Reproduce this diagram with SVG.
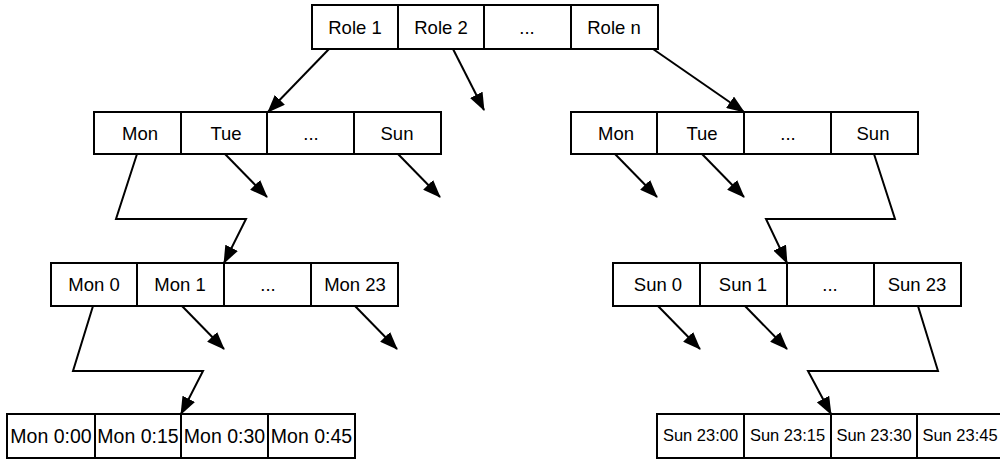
<svg xmlns="http://www.w3.org/2000/svg" width="1000" height="460" viewBox="0 0 1000 460">
<style>
.cell{fill:#fff;stroke:#000;stroke-width:2}
.t{font-family:"Liberation Sans",Arial,sans-serif;font-size:18.5px;fill:#000;text-anchor:middle}
.tl{font-size:19.5px}
.ts{font-size:16.5px}
.c{fill:none;stroke:#000;stroke-width:2;marker-end:url(#ah)}
</style>
<defs>
<marker id="ah" markerUnits="userSpaceOnUse" markerWidth="18" markerHeight="14" refX="17" refY="7" orient="auto" viewBox="0 0 18 14">
<path d="M0,0 L18,7 L0,14 z" fill="#000"/>
</marker>
</defs>
<rect width="1000" height="460" fill="#fff"/>
<g id="connectors">
<path class="c" d="M329,49 L268,112"/>
<path class="c" d="M453,49 L484,110"/>
<path class="c" d="M653,49 L744,112"/>
<path class="c" d="M137,154 L116,219 L246,219 L224,263"/>
<path class="c" d="M225,154 L267,197"/>
<path class="c" d="M398,154 L440,197"/>
<path class="c" d="M615,154 L657,197"/>
<path class="c" d="M702,154 L744,197"/>
<path class="c" d="M874,154 L895,219 L766,219 L787,263"/>
<path class="c" d="M93,306 L73,371 L203,371 L181,414"/>
<path class="c" d="M182,306 L224,349"/>
<path class="c" d="M355,306 L397,349"/>
<path class="c" d="M658,306 L700,349"/>
<path class="c" d="M745,306 L787,349"/>
<path class="c" d="M918,306 L938,371 L808,371 L831,414"/>
</g>
<g id="roles">
<rect class="cell" x="312" y="5" width="86" height="44"/>
<rect class="cell" x="398" y="5" width="86" height="44"/>
<rect class="cell" x="484" y="5" width="87" height="44"/>
<rect class="cell" x="571" y="5" width="87" height="44"/>
<text class="t" x="355" y="34">Role 1</text>
<text class="t" x="441" y="34">Role 2</text>
<text class="t" x="527" y="34">...</text>
<text class="t" x="614" y="34">Role n</text>
</g>
<g id="days-left">
<rect class="cell" x="94" y="112" width="87" height="42"/>
<rect class="cell" x="181" y="112" width="86" height="42"/>
<rect class="cell" x="267" y="112" width="87" height="42"/>
<rect class="cell" x="354" y="112" width="87" height="42"/>
<text class="t" x="140" y="140">Mon</text>
<text class="t" x="226" y="140">Tue</text>
<text class="t" x="311" y="140">...</text>
<text class="t" x="397" y="140">Sun</text>
</g>
<g id="days-right">
<rect class="cell" x="571" y="112" width="86" height="42"/>
<rect class="cell" x="657" y="112" width="87" height="42"/>
<rect class="cell" x="744" y="112" width="87" height="42"/>
<rect class="cell" x="831" y="112" width="87" height="42"/>
<text class="t" x="616" y="140">Mon</text>
<text class="t" x="702" y="140">Tue</text>
<text class="t" x="788" y="140">...</text>
<text class="t" x="873" y="140">Sun</text>
</g>
<g id="hours-mon">
<rect class="cell" x="51" y="263" width="86" height="43"/>
<rect class="cell" x="137" y="263" width="87" height="43"/>
<rect class="cell" x="224" y="263" width="87" height="43"/>
<rect class="cell" x="311" y="263" width="87" height="43"/>
<text class="t" x="94" y="291">Mon 0</text>
<text class="t" x="180" y="291">Mon 1</text>
<text class="t" x="268" y="291">...</text>
<text class="t" x="355" y="291">Mon 23</text>
</g>
<g id="hours-sun">
<rect class="cell" x="613" y="263" width="87" height="43"/>
<rect class="cell" x="700" y="263" width="87" height="43"/>
<rect class="cell" x="787" y="263" width="87" height="43"/>
<rect class="cell" x="874" y="263" width="87" height="43"/>
<text class="t" x="658" y="291">Sun 0</text>
<text class="t" x="743" y="291">Sun 1</text>
<text class="t" x="830" y="291">...</text>
<text class="t" x="917" y="291">Sun 23</text>
</g>
<g id="quarters-mon">
<rect class="cell" x="7" y="414" width="88" height="44"/>
<rect class="cell" x="95" y="414" width="86" height="44"/>
<rect class="cell" x="181" y="414" width="87" height="44"/>
<rect class="cell" x="268" y="414" width="87" height="44"/>
<text class="t tl" x="51" y="443">Mon 0:00</text>
<text class="t tl" x="138" y="443">Mon 0:15</text>
<text class="t tl" x="224.5" y="443">Mon 0:30</text>
<text class="t tl" x="311.5" y="443">Mon 0:45</text>
</g>
<g id="quarters-sun">
<rect class="cell" x="657" y="414" width="87" height="44"/>
<rect class="cell" x="744" y="414" width="87" height="44"/>
<rect class="cell" x="831" y="414" width="86" height="44"/>
<rect class="cell" x="917" y="414" width="87" height="44"/>
<text class="t ts" x="700.5" y="441">Sun 23:00</text>
<text class="t ts" x="787.5" y="441">Sun 23:15</text>
<text class="t ts" x="874" y="441">Sun 23:30</text>
<text class="t ts" x="960" y="441">Sun 23:45</text>
</g>
</svg>
